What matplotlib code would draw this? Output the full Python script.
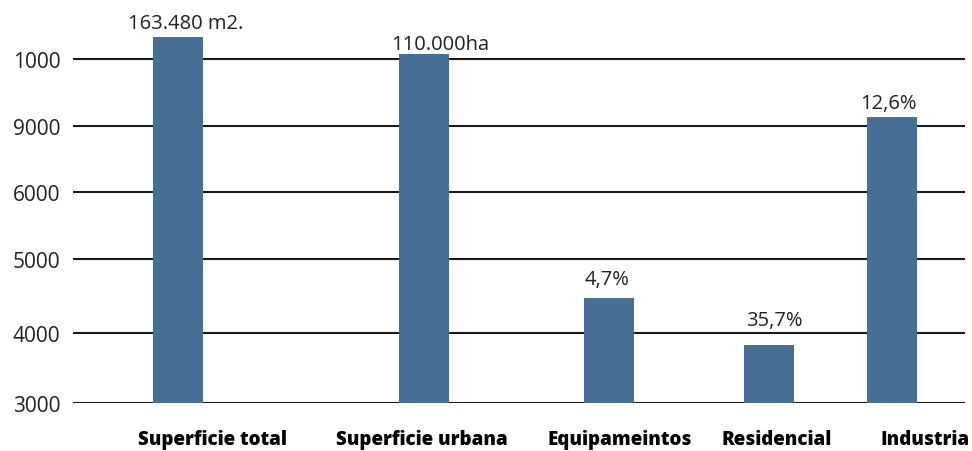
import matplotlib.pyplot as plt

# datos (alturas, unidades del eje dibujado)
categorias = ['Superficie total', 'Superficie urbana', 'Equipameintos', 'Residencial', 'Industria']
valores = [366, 349, 105, 58, 286]
etiquetas = ['163.480 m2.', '110.000ha', '4,7%', '35,7%', '12,6%']
ticks_txt = ['3000', '4000', '5000', '6000', '9000', '1000']
ticks_pos = [0, 70, 144, 211, 277, 344]

# posiciones (maquetacion)
x_barras = [178, 424, 609, 769, 892]
x_nombres = [212, 422, 620, 777, 925]
x_etiq = [186, 440, 607, 774, 888]
sep_etiq = [4, 0, 9, 15, 4]

color = '#476f96'

fig = plt.figure(figsize=(9.72, 4.52), dpi=100)
ax = fig.add_axes([73/972, 1-404/452, (965-73)/972, 404/452])
ax.set_xlim(73, 965)
ax.set_ylim(0, 404)

ax.bar(x_barras, valores, width=50, color=color, zorder=3)

for x, v, t, d in zip(x_etiq, valores, etiquetas, sep_etiq):
    ax.text(x, v + d, t, ha='center', va='bottom', fontsize=14.5,
            family='Open Sans', color='#222222')

ax.set_yticks(ticks_pos, ticks_txt)
ax.set_xticks(x_nombres, categorias)
ax.grid(axis='y', color='#1a1a1a', lw=1.5, zorder=1)
ax.tick_params(axis='y', length=0, pad=9, labelsize=15, labelcolor='#222222')
ax.tick_params(axis='x', length=0, pad=19, labelsize=13.5)
for lab in ax.get_yticklabels():
    lab.set_family('Open Sans')
for lab in ax.get_xticklabels():
    lab.set_family('Open Sans')
    lab.set_fontweight('heavy')
for s in ax.spines.values():
    s.set_visible(False)

fig.savefig('out.png', dpi=100)
